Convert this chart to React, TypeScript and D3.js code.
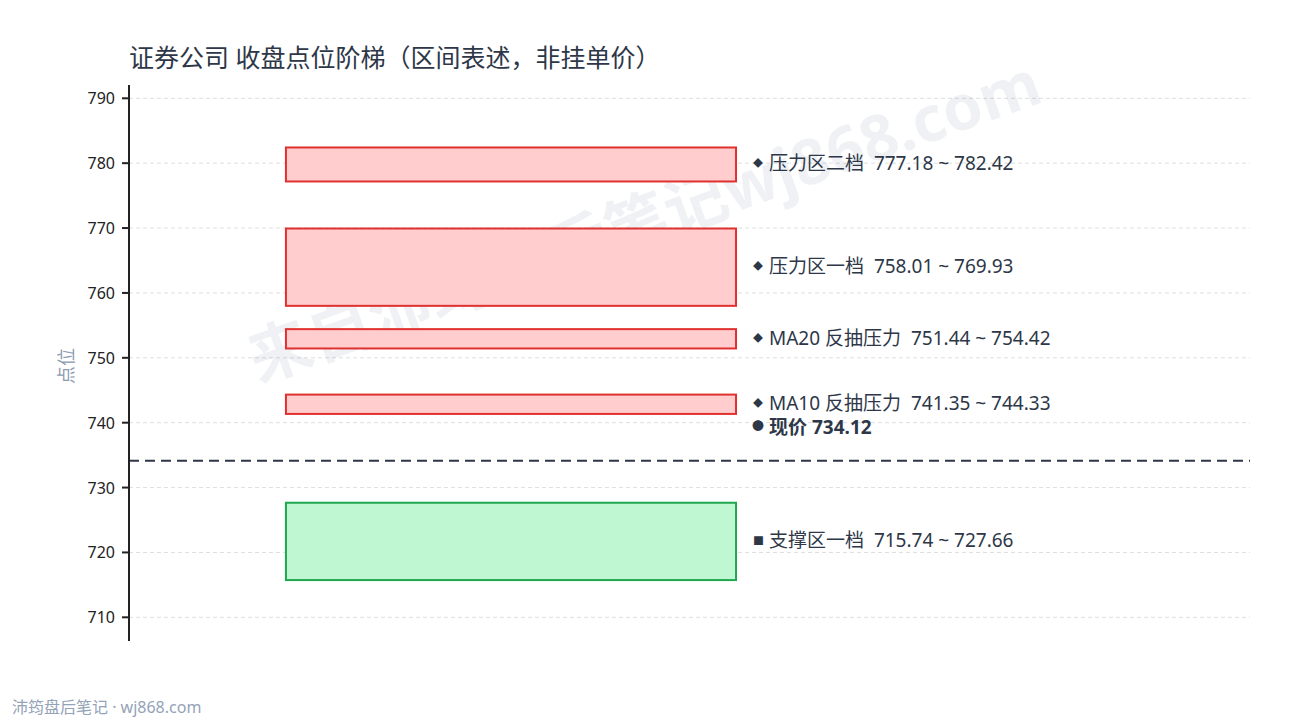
import React from "react";
import * as d3 from "d3";

const zoneNames = ["压力区二档", "压力区一档", "MA20 反抽压力", "MA10 反抽压力", "支撑区一档"];
const zoneLow = [777.18, 758.01, 751.44, 741.35, 715.74];
const zoneHigh = [782.42, 769.93, 754.42, 744.33, 727.66];
const zoneKind = ["resist", "resist", "resist", "resist", "support"];
const currentPrice = 734.12;
const yTicks = [710, 720, 730, 740, 750, 760, 770, 780, 790];

const W = 1290;
const H = 720;
const FONT = "'Noto Sans', 'Noto Sans CJK SC', sans-serif";
const TEXT = "#2d3748";
const NB = "\u00a0";

export default function App() {
  const left = 129;
  const right = 1250;
  const y = d3.scaleLinear().domain([706.35, 792.05]).range([641, 85]);
  const x = d3.scaleLinear().domain([0, 1]).range([left, right]);
  const barX0 = x(0.14);
  const barX1 = x(0.5415);
  const fmt = d3.format(".2f");
  const curY = y(currentPrice);

  return (
    <div style={{ position: "fixed", left: 0, top: 0, width: W, height: H, background: "#fff" }}>
      <svg width={W} height={H} style={{ display: "block", fontFamily: FONT }}>
        <rect x={0} y={0} width={W} height={H} fill="#fff" />
        {/* grid */}
        {yTicks.map((t) => (
          <line key={"g" + t} x1={left} x2={right} y1={y(t)} y2={y(t)} stroke="#dedede" strokeWidth={1} strokeDasharray="4,3" />
        ))}
        {/* watermark */}
        <text
          x={646}
          y={226}
          textAnchor="middle"
          dominantBaseline="middle"
          transform="rotate(-19.7 646 226)"
          fontSize={63}
          fontWeight="bold"
          fill="#1e3a5f"
          fillOpacity={0.07}
        >
          来自沛筠盘后笔记wj868.com
        </text>
        {/* zones */}
        {zoneNames.map((n, i) => {
          const red = zoneKind[i] === "resist";
          const top = y(zoneHigh[i]);
          const bot = y(zoneLow[i]);
          const mid = (top + bot) / 2;
          return (
            <g key={n}>
              <rect
                x={barX0}
                y={top}
                width={barX1 - barX0}
                height={bot - top}
                fill={red ? "#ffcaca" : "#bbf7d0"}
                fillOpacity={0.95}
                stroke={red ? "#e03131" : "#1fa84f"}
                strokeWidth={2}
              />
              <text x={753} y={mid - 1} dominantBaseline="central" fontSize={red ? 10 : 11} fill={TEXT}>
                {red ? "◆" : "■"}
              </text>
              <text x={769} y={mid - 1} dominantBaseline="central" fontSize={19} fill={TEXT}>
                {`${n}${NB}${NB}${fmt(zoneLow[i])} ~ ${fmt(zoneHigh[i])}`}
              </text>
            </g>
          );
        })}
        {/* current price */}
        <line x1={left} x2={right} y1={curY} y2={curY} stroke={TEXT} strokeWidth={2} strokeDasharray="10,6" />
        <text x={752} y={curY - 34} dominantBaseline="central" fontSize={12} fill={TEXT}>
          ●
        </text>
        <text x={769} y={curY - 34} dominantBaseline="central" fontSize={19} fontWeight="bold" fill={TEXT}>
          {`现价 ${fmt(currentPrice)}`}
        </text>
        {/* axis */}
        <line x1={left} x2={left} y1={85} y2={641} stroke="#222" strokeWidth={2} />
        {yTicks.map((t) => (
          <g key={"t" + t}>
            <line x1={left - 7} x2={left} y1={y(t)} y2={y(t)} stroke="#222" strokeWidth={2} />
            <text x={left - 14} y={y(t)} textAnchor="end" dominantBaseline="central" fontSize={16} fill="#222">
              {t}
            </text>
          </g>
        ))}
        <text
          x={66}
          y={366}
          textAnchor="middle"
          dominantBaseline="central"
          transform="rotate(-90 66 366)"
          fontSize={18}
          fill="#8d9bb0"
        >
          点位
        </text>
        {/* title */}
        <text x={129} y={57} dominantBaseline="central" fontSize={25} fill={TEXT}>
          证券公司 收盘点位阶梯（区间表述，非挂单价）
        </text>
        {/* footer */}
        <text x={12} y={707} dominantBaseline="central" fontSize={16} fill="#94a3b8">
          沛筠盘后笔记 · wj868.com
        </text>
      </svg>
    </div>
  );
}
